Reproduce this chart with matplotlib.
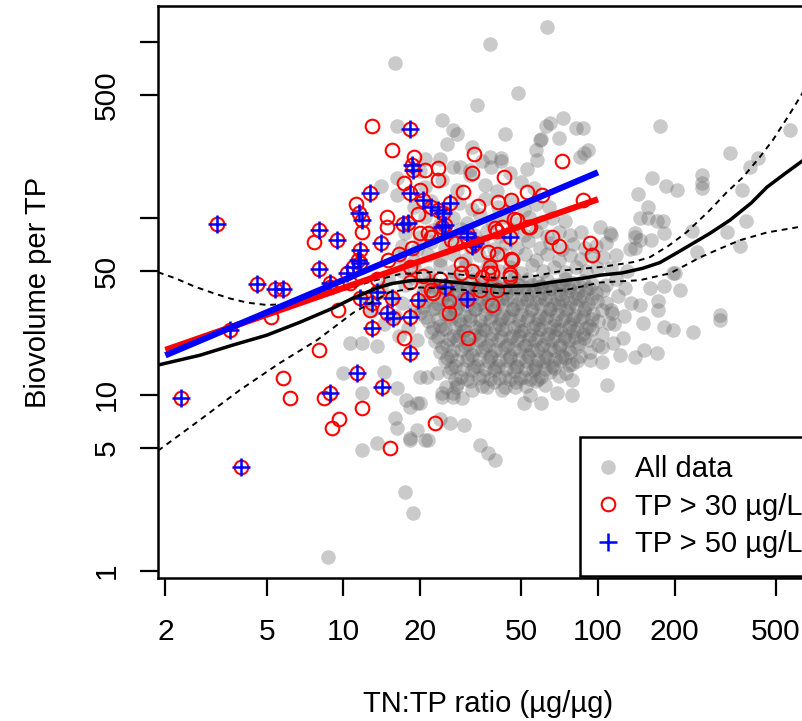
import matplotlib
matplotlib.use("Agg")
import matplotlib.pyplot as plt
from matplotlib.ticker import NullLocator

plt.rcParams['font.family'] = ['Liberation Sans', 'DejaVu Sans']

# Ejes
x_ticks = [2, 5, 10, 20, 50, 100, 200, 500]
x_tick_labels = ["2", "5", "10", "20", "50", "100", "200", "500"]
y_ticks = [1, 5, 10, 50, 100, 500, 1000]
y_tick_labels = ["1", "5", "10", "50", "", "500", ""]

# Todos los datos (nube gris), nucleo denso
gray_core = [
    (22, 44), (24.5, 42), (27, 45), (29, 43), (32, 44.5), (35, 42.5), (38, 45), (41, 43), (45, 44), (49, 42),
    (53, 45.5), (58, 43), (63, 44.5), (68, 42), (74, 45), (80, 43), (87, 44), (95, 42.5), (21, 41), (33, 40.5),
    (47, 46), (60, 40.5), (72, 41),
    (23, 41.5), (25.5, 40.5), (28, 42), (30.5, 40), (34, 41.5), (37, 40.5), (39.5, 42), (43, 40), (46, 41.5),
    (51, 40.5), (55, 42), (60, 41), (65, 40), (70, 42), (77, 40.5), (84, 41.5), (92, 40),
    (20.5, 38), (23, 39.5), (25.5, 37), (28, 39), (30.5, 37.5), (33.5, 39.5), (36.5, 37), (40, 39), (43.5, 37.5),
    (47.5, 39.5), (52, 37), (56, 39), (61, 37.5), (66, 39.5), (71, 37), (77, 39), (83, 37.5), (90, 39), (98, 37.5),
    (105, 39),
    (22, 36), (24.5, 35), (27, 36.5), (29.5, 35.2), (32, 36.3), (35, 35), (38.5, 36.5), (42, 35.3), (46, 36.3),
    (50, 35), (54, 36.5), (58.5, 35.2), (64, 36.2), (69, 35), (75, 36.5), (81, 35.3), (87, 36), (95, 35.5),
    (21, 34), (23.5, 32.5), (26, 35), (28.5, 33), (31, 34.5), (34, 32.5), (37, 34.5), (40.5, 33), (44, 35),
    (48, 32.5), (52.5, 34.5), (57, 33), (62, 35), (67, 32.5), (72.5, 34.5), (78, 33), (84, 35), (91, 32.5),
    (99, 34), (108, 33),
    (20.5, 31.5), (23, 30.8), (25.5, 32), (28, 31), (30.5, 32), (33, 30.6), (36, 31.8), (39, 30.8), (42.5, 32),
    (46.5, 30.7), (50.5, 31.8), (55, 30.8), (60, 32), (65, 30.6), (70.5, 31.7), (76, 30.8), (82, 31.8), (89, 31),
    (20, 29), (22.5, 30.5), (25, 28.5), (27.5, 30), (30, 28), (33, 30.5), (36, 28.5), (39, 30), (42.5, 28),
    (46, 30.5), (50, 28.5), (54.5, 30), (59, 28), (64, 30.5), (69, 28.5), (75, 30), (81, 28), (88, 30),
    (96, 28.5), (104, 30), (114, 29),
    (21, 27.5), (23.5, 26.7), (26, 28), (28.5, 26.6), (31.5, 27.8), (34.5, 26.5), (38, 27.7), (41.5, 26.8),
    (45, 27.8), (49, 26.5), (53, 27.6), (58, 26.7), (63, 27.8), (68, 26.5), (74, 27.6), (80, 26.8), (87, 27.5),
    (95, 26.8),
    (21.5, 26), (24, 24.5), (26.5, 27), (29, 25), (31.5, 26.5), (34.5, 24.5), (37.5, 26.5), (41, 25), (44.5, 27),
    (48.5, 24.5), (52.5, 26.5), (57, 25), (62, 27), (67, 24.5), (72, 26.5), (78, 25), (85, 26.5), (92, 24.5),
    (100, 26), (110, 25.5),
    (22.5, 24), (25, 23.4), (27.5, 24.3), (30, 23.3), (33, 24.2), (36, 23.3), (39.5, 24.2), (43, 23.4), (47, 24.3),
    (51, 23.3), (55.5, 24.2), (60, 23.4), (65, 24.2), (71, 23.3), (77, 24.1), (83, 23.5), (90, 24),
    (22, 22.5), (24.5, 23.5), (27, 21.5), (29.5, 23), (32.5, 21.8), (35.5, 23.5), (38.5, 22), (42, 23.5),
    (46, 21.5), (50, 23), (54, 21.8), (58.5, 23.5), (63.5, 22), (69, 23.5), (74.5, 21.5), (80, 23), (87, 22),
    (95, 23.5), (104, 22),
    (23.5, 21.2), (26, 20.7), (28.5, 21.4), (31.5, 20.8), (34.5, 21.4), (38, 20.7), (41.5, 21.3), (45, 20.8),
    (49, 21.4), (53.5, 20.7), (58, 21.3), (63, 20.8), (68, 21.4), (74, 20.8), (81, 21.2), (88, 20.8),
    (23, 20), (25.5, 19), (28, 20.5), (31, 19.3), (34, 20.5), (37, 19), (40.5, 20.3), (44, 19), (48, 20.5),
    (52, 19.2), (56.5, 20.5), (61, 19), (66, 20.3), (71, 19), (77, 20.5), (84, 19.5), (92, 20.3), (100, 19),
    (24.5, 18.5), (27, 18), (30, 18.8), (33, 18.1), (36, 18.7), (39.5, 18), (43, 18.6), (47, 18.1), (51, 18.8),
    (55, 18), (60, 18.6), (65, 18.1), (70, 18.7), (76, 18.2), (83, 18.6),
    (24, 17.5), (26.5, 16.5), (29, 18), (32, 16.8), (35, 18), (38, 16.5), (41.5, 17.8), (45, 16.5), (49, 18),
    (53, 16.8), (57.5, 18), (62, 16.5), (67, 17.8), (72, 16.5), (78, 17.5), (85, 16.6), (93, 17.5),
    (25.5, 16.2), (28, 15.8), (31, 16.3), (34, 15.9), (37.5, 16.3), (41, 15.8), (45, 16.2), (49, 15.9),
    (53.5, 16.3), (58, 15.8), (63, 16.2), (68, 15.9), (74, 16.2),
    (25, 15.5), (27.5, 14.5), (30.5, 15.8), (33.5, 14.6), (37, 15.6), (40.5, 14.5), (44, 15.8), (48, 14.6),
    (52, 15.6), (56.5, 14.5), (61, 15.5), (66, 14.6), (71, 15.5), (77, 14.8), (83, 15.5),
    (26.5, 14.2), (29.5, 13.9), (32.5, 14.3), (36, 13.9), (39.5, 14.2), (43.5, 13.9), (47.5, 14.3), (52, 13.9),
    (57, 14.2), (62, 14), (67, 14.2),
    (26, 13.5), (29, 12.6), (32, 13.8), (35.5, 12.7), (39, 13.8), (43, 12.5), (47, 13.6), (51, 12.6),
    (55.5, 13.7), (60, 12.6), (65, 13.5), (70, 12.8),
    (27.5, 12.3), (30.5, 12.2), (34, 12.4), (37.5, 12.2), (41, 12.4), (45, 12.2), (49.5, 12.4), (54, 12.2),
    (58, 12.3),
    (28, 11.5), (31.5, 12), (35, 11.2), (39, 11.8), (43, 11), (47.5, 11.8), (52, 11.2), (57, 11.9), (62, 11.3),
]

# Nube gris, zona superior (bajo los circulos rojos)
gray_upper = [
    (17, 50), (19, 53), (21.5, 49), (24, 54), (27, 50), (30, 53.5), (33.5, 49.5), (37, 54), (41, 50), (45, 53),
    (50, 49), (55, 54), (61, 50.5), (67, 53), (74, 49.5), (82, 53), (90, 50), (99, 52),
    (16.5, 60), (19, 57), (21.5, 62), (24, 58), (27, 63), (30, 58), (34, 62), (38, 57.5), (42, 63), (46.5, 58),
    (51.5, 62.5), (57, 58), (63, 63), (70, 58), (78, 62), (86, 58.5), (95, 61),
    (17, 70), (19.5, 67), (22, 73), (25, 68), (28, 74), (31.5, 68.5), (35, 73), (39, 67), (43.5, 72), (48, 68),
    (53, 74), (59, 68), (65, 72), (72, 67), (80, 71), (89, 68),
    (17.5, 82), (20, 78), (22.5, 86), (25.5, 80), (29, 87), (32.5, 80), (36.5, 85), (41, 79), (46, 86), (51, 80),
    (57, 85), (63, 79), (70, 84), (78, 80), (86, 83),
    (18, 95), (21, 102), (24, 93), (27, 100), (30.5, 94), (34.5, 104), (38.5, 95), (43, 101), (48, 94),
    (53.5, 102), (59.5, 95), (66, 100), (74, 96),
    (19, 115), (22, 125), (25, 112), (28.5, 122), (32, 113), (36, 128), (40.5, 115), (45.5, 124), (51, 112),
    (57, 120), (64, 116),
    (21, 150), (24.5, 165), (28, 145), (31.5, 175), (36, 155), (40, 142), (45, 180), (50, 160), (56, 148),
    (20, 185), (27, 195), (21, 216), (24, 216), (28.7, 194), (31.4, 187), (35, 210), (38, 194), (41.5, 210),
    (14, 40), (15.5, 36), (17, 33), (16, 28), (14.5, 25), (18, 24), (19, 30), (13, 30), (17.5, 42), (15, 45),
    (19, 46), (12.5, 35), (16.5, 21.5), (19.5, 20.5),
    (105, 60), (112, 52), (118, 45), (108, 42), (120, 36), (112, 30), (126, 28), (116, 25), (130, 50), (98, 70),
    (108, 72), (118, 62), (128, 40), (135, 33),
]

# Nube gris, puntos dispersos
gray_outer = [
    (37.6, 973), (63, 1208), (16, 755), (33.5, 437), (48.5, 513), (24.5, 359), (27, 316), (28, 302), (25.5, 265),
    (16.2, 333), (43, 302), (62.5, 335), (73, 372), (60, 281), (70.5, 286), (57, 243), (57.5, 213), (32, 252),
    (37.6, 222), (41.5, 218), (52.5, 190), (14, 153), (16.2, 135), (16.2, 170), (175, 333), (568, 316),
    (330, 235), (425, 218), (396, 194), (256, 175), (256, 158), (256, 149), (163, 170), (185, 153), (205, 144),
    (144, 138), (367, 144), (234, 85), (320, 83), (380, 97), (361, 70), (157, 115), (170, 97), (180, 97),
    (146, 100), (157, 100), (140, 82), (146, 75), (162, 75), (182, 82), (200, 49), (244, 64), (210, 39),
    (102, 89), (111, 82), (82, 324), (87, 324), (91, 243), (85, 222), (65, 346), (59, 277), (88, 235),
    (113, 80), (140, 78), (134, 67), (140, 68), (197, 49), (181, 41.5), (160, 40), (146, 32), (172, 34),
    (172, 30), (150, 25.3), (181, 24.2), (197, 23.2), (237, 22.6), (302, 28.1), (302, 26.4), (125, 20.9),
    (115, 19.6), (104, 18.5), (122, 16.8), (140, 16.3), (152, 17.9), (170, 17.3), (93, 15.7), (104, 15.2),
    (79, 15), (75, 13.2), (79, 12.1), (79, 10), (109, 11.3), (51, 8.9), (60, 9.0), (69, 10.2), (29.8, 6.7),
    (34.4, 5.2), (37, 4.65), (39.5, 4.25), (17.5, 2.8), (18.8, 2.13), (18.3, 5.5), (21.5, 5.5), (24.5, 9.7),
    (27, 10.2), (18.3, 8.5), (20, 8.9), (10.6, 19.6), (11.8, 19.6), (13.5, 18.8), (10, 13.3), (14.5, 13.4),
    (11.8, 10.2), (16.2, 10.9), (17.7, 9.3), (19.4, 8.9), (15.9, 7.4), (16.2, 6.5), (11.8, 4.85), (13.5, 5.3),
    (18.3, 5.7), (19.4, 6.3), (21, 5.5), (24, 7.3), (26.2, 6.9), (20, 12.6), (21.3, 12.6), (23.3, 13.2),
    (24.5, 10.2), (27, 9.7), (29.3, 9.5), (25.4, 11.0), (27.7, 11.0), (32, 10.6), (36.5, 11.0), (41.8, 10.6),
    (47.3, 11.0), (54, 10), (8.7, 1.2),
]

# TP > 30 (solo los que no son TP > 50)
tp30_only = [
    (12.9, 335), (15.5, 245), (19, 222), (21, 187), (23.5, 193), (23.5, 164), (17.3, 158), (20, 144),
    (11.2, 120), (14.8, 101), (14.8, 89), (19.6, 106), (21.5, 82), (22, 78), (7.7, 73), (11.8, 83), (18.6, 68),
    (8.85, 40.7), (32.7, 230), (32.1, 180), (42.7, 172), (72, 210), (29.5, 140), (52.5, 141), (60.5, 135),
    (33.7, 117), (40.5, 123), (45.5, 127), (47, 99), (48, 97.5), (54, 89), (39.5, 88), (66, 78), (87, 127),
    (70, 70), (93, 72), (95, 62), (37, 64), (40, 63), (46, 58), (26.5, 75), (20, 82), (40, 85), (42, 89),
    (53, 89), (29, 55), (37.5, 53), (45, 46.5), (35, 46.5), (45.5, 59), (27.5, 72), (29, 49), (32, 50),
    (37, 49), (38.5, 49), (45, 48), (34.5, 39), (40, 39), (38.5, 32), (22, 39), (22.5, 37.5), (26, 34),
    (26, 29), (31, 21), (17.3, 21), (9.5, 30), (12.7, 30), (11.8, 8.4), (9.6, 7.3), (9, 6.5), (15.2, 5.0),
    (23, 6.9), (8, 17.9), (5.8, 12.4), (6.2, 9.5), (8.4, 9.6), (5.2, 27.5), (10.6, 43), (18.3, 43.5),
    (18.3, 52.7), (13.5, 45), (20.5, 47), (24, 45.5), (15, 58), (16.5, 63),
]

# TP > 50
tp50 = [
    (2.3, 9.5), (3.2, 93), (3.6, 23.2), (3.95, 3.9), (4.6, 42.4), (5.4, 39.8), (5.8, 39.5), (8.0, 86),
    (8.0, 51.5), (9.4, 75), (12.7, 139), (11.6, 66), (14, 72), (11.5, 107), (11.8, 97.5), (18.3, 320),
    (18.6, 200), (18.8, 187), (18.3, 139), (20.5, 127), (17.2, 93), (18, 94), (24.6, 107), (25, 91),
    (10.9, 52.7), (11.4, 58), (11.6, 55.6), (10.3, 49), (11.6, 35.5), (12.9, 33), (15.5, 35.5), (13.6, 38),
    (14.8, 29), (15.6, 27.2), (18.3, 27.5), (19.6, 34.3), (13, 23.8), (18.3, 17.2), (11.3, 13.2), (14.2, 11.1),
    (25, 40.5), (30.5, 35), (30.5, 78), (32, 70), (45, 78), (8.85, 10.2), (8.85, 43), (23.5, 111),
    (26.2, 122), (24.5, 89), (30.5, 82), (22, 115), (33, 72),
]

# Curva suavizada y bandas de confianza
smooth_x = [1.87, 2.73, 3.69, 5.0, 6.75, 9.1, 10.9, 13.5, 15.5, 18.5, 22.5, 30.5, 41.2, 55.5, 64.8, 87, 102,
            125, 150, 175, 203, 240, 275, 330, 400, 461, 540, 640]
smooth_y = [14.7, 16.7, 19.1, 21.7, 25.7, 30.9, 35.2, 40.1, 42.6, 44.3, 44.5, 42.7, 41.0, 41.5, 43.2, 45.6,
            47.5, 49.0, 52.0, 56.0, 63.3, 73, 82, 97.5, 122, 150, 178, 213]
upper_x = [1.87, 2.2, 2.6, 3.1, 3.6, 4.2, 5.0, 6.0, 7.2, 8.5, 9.7, 11.3, 13, 16.7, 22.5, 30.5, 41.2, 55.5,
           74.5, 102, 137, 160, 190, 223, 275, 320, 370, 430, 486, 560, 640]
upper_y = [49.4, 45.5, 41, 37.5, 35, 33.2, 32.2, 32.6, 34.3, 36.3, 38.6, 41.3, 44, 48.2, 49.5, 47.5, 45.7,
           46.8, 50.7, 52.8, 56.3, 60.1, 70, 83.3, 111, 140, 170, 220, 277, 380, 520]
lower_x = [1.87, 2.73, 3.92, 5.63, 7.9, 10.9, 15.2, 20, 30.5, 41.2, 55.5, 74.5, 102, 146, 192, 220, 252, 300,
           361, 461, 640]
lower_y = [4.8, 7.17, 10.6, 15.1, 20.4, 29, 38.1, 40.5, 39.1, 37.5, 37.5, 39.1, 43.2, 44.5, 48.7, 54, 60, 67,
           75, 83, 90]

# Rectas de regresion
fit30_x = [2.0, 100]
fit30_y = [17.9, 128]
fit50_x = [2.0, 100]
fit50_y = [16.7, 182]

# Grafico
fig = plt.figure(figsize=(8.03, 7.21), dpi=100)
ax = fig.add_axes([0.19676, 0.19834, 0.82316, 0.79334])

gray = gray_core + gray_upper + gray_outer
ax.plot([p[0] for p in gray], [p[1] for p in gray], 'o', color=(0.4, 0.4, 0.4), alpha=0.34,
        markersize=10.5, markeredgewidth=0, label="All data", zorder=1)
red = tp30_only + tp50
ax.plot([p[0] for p in red], [p[1] for p in red], 'o', mfc='none', mec='red', mew=1.5,
        markersize=9.8, label="TP > 30 µg/L", zorder=2)
ax.plot([p[0] for p in tp50], [p[1] for p in tp50], '+', color='blue', mew=1.8,
        markersize=13, label="TP > 50 µg/L", zorder=3)

ax.plot(upper_x, upper_y, color='black', lw=1.4, linestyle=(0, (3, 2.5)), zorder=4)
ax.plot(lower_x, lower_y, color='black', lw=1.4, linestyle=(0, (3, 2.5)), zorder=4)
ax.plot(smooth_x, smooth_y, color='black', lw=2.5, zorder=4)
ax.plot(fit30_x, fit30_y, color='red', lw=4.5, solid_capstyle='butt', zorder=5)
ax.plot(fit50_x, fit50_y, color='blue', lw=4.5, solid_capstyle='butt', zorder=6)

ax.set_xscale('log')
ax.set_yscale('log')
ax.set_xlim(1.871, 738)
ax.set_ylim(0.912, 1596)
ax.xaxis.set_minor_locator(NullLocator())
ax.yaxis.set_minor_locator(NullLocator())
ax.set_xticks(x_ticks, x_tick_labels)
ax.set_yticks(y_ticks, y_tick_labels, rotation=90, va='center')
ax.tick_params(axis='x', direction='out', length=13, width=1.6, labelsize=21.5, pad=16)
ax.tick_params(axis='y', direction='out', length=13, width=1.6, labelsize=21.5, pad=14)
for s in ax.spines.values():
    s.set_linewidth(1.8)

ax.set_xlabel("TN:TP ratio (µg/µg)", fontsize=21)
ax.xaxis.set_label_coords(0.5, -0.195)
ax.set_ylabel("Biovolume per TP", fontsize=21)
ax.yaxis.set_label_coords(-0.16, 0.5)

leg = ax.legend(loc='upper left', bbox_to_anchor=(0.6384, 0.2465), borderaxespad=0, fancybox=False,
                edgecolor='black', framealpha=1, borderpad=0.62, labelspacing=0.33, handlelength=0.66,
                handletextpad=0.62, fontsize=21)
leg.get_frame().set_linewidth(1.8)

fig.savefig("out.png", dpi=100)
